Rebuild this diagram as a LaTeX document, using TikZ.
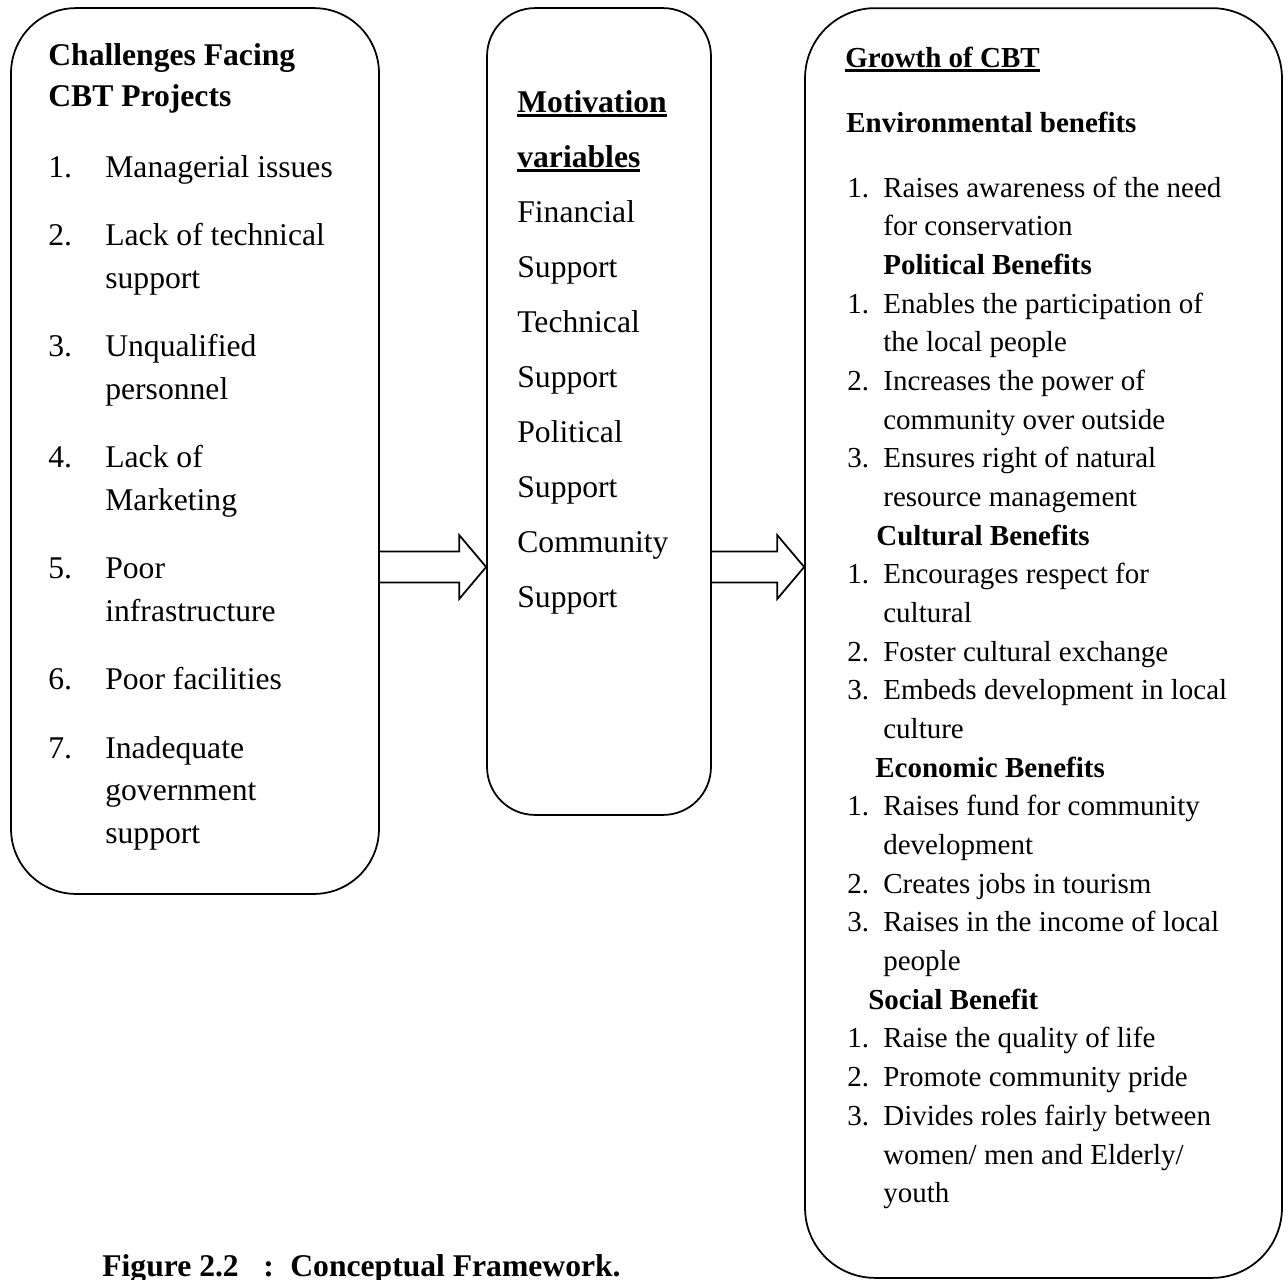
\documentclass[tikz,border=0pt]{standalone}
\usepackage{fontspec}
\setmainfont{Liberation Serif}
\usetikzlibrary{calc}
\newcommand{\thickul}[1]{\setbox0\hbox{#1}\rlap{\rule[-3pt]{\wd0}{1.6pt}}\box0}

\begin{document}
\begin{tikzpicture}[x=0.02cm,y=-0.02cm]
  \tikzstyle{myBox}=[draw,line width=1pt,inner sep=0pt];
  \tikzstyle{myBig}=[anchor=base west,inner sep=0pt,font=\fontsize{18}{21}\selectfont];
  \tikzstyle{myBigHead}=[anchor=base west,inner sep=0pt,font=\fontsize{18}{21}\selectfont\bfseries];
  \tikzstyle{mySmall}=[anchor=base west,inner sep=0pt,font=\fontsize{16.5}{19}\selectfont];
  \tikzstyle{mySmallHead}=[anchor=base west,inner sep=0pt,font=\fontsize{16.5}{19}\selectfont\bfseries];
  \useasboundingbox (0,0) rectangle (1288,1279);

  \node[myBox,rounded corners=1.3cm,minimum width=7.36cm,minimum height=17.72cm] (chal) at (195,451) {};
  \node[myBox,rounded corners=0.96cm,minimum width=4.48cm,minimum height=16.14cm] (motiv) at (599,411.5) {};
  \node[myBox,rounded corners=1.4cm,minimum width=9.54cm,minimum height=25.4cm] (growth) at (1043.5,643) {};

  \coordinate (row) at (0,567);
  \foreach \a/\b in {chal/motiv,motiv/growth} {
    \coordinate (s) at (\a.east |- row);
    \coordinate (t) at (\b.west |- row);
    \draw[line width=1pt] ($(s)+(0,-15.5)$) -- ($(t)+(-27,-15.5)$) -- ($(t)+(-27,-32)$) -- (t)
      -- ($(t)+(-27,32)$) -- ($(t)+(-27,15.5)$) -- ($(s)+(0,15.5)$);
  }

  \node[myBigHead] (chalA) at (48,65) {Challenges Facing};
  \node[myBigHead] (chalB) at (48,106) {CBT Projects};
  \foreach \k/\y in {1/177,2/245.5,3/356.5,4/467.5,5/578.5,6/689.5,7/758}
    \node[myBig] (cnum\k) at (48,\y) {\k.};
  \foreach \y/\t [count=\i] in {177/Managerial issues,245.5/Lack of technical,288/support,
      356.5/Unqualified,399/personnel,467.5/Lack of,510/Marketing,578.5/Poor,621/infrastructure,
      689.5/Poor facilities,758/Inadequate,800.5/government,843/support}
    \node[myBig] (cline\i) at (105,\y) {\t};

  \node[myBigHead] (motA) at (517,112) {\thickul{Motivation}};
  \node[myBigHead] (motB) at (517,167) {\thickul{variables}};
  \foreach \y/\t [count=\i] in {222/Financial,277/Support,332/Technical,387/Support,
      442/Political,497/Support,552/Community,607/Support}
    \node[myBig] (mline\i) at (517,\y) {\t};

  \node[mySmallHead] (groA) at (845,67) {\thickul{Growth of CBT}};
  \node[mySmallHead] (groB) at (846,132) {Environmental benefits};
  \foreach \L/\x/\t in {2/883/Political Benefits,9/876/Cultural Benefits,
      15/875/Economic Benefits,21/868/Social Benefit}
    \node[mySmallHead] (ghead\L) at (\x,{197+38.68*\L}) {\t};
  \foreach \L/\k in {0/1,3/1,5/2,7/3,10/1,12/2,13/3,16/1,18/2,19/3,22/1,23/2,24/3}
    \node[mySmall] (gnum\L) at (847,{197+38.68*\L}) {\k.};
  \foreach \L/\t in {0/Raises awareness of the need,1/for conservation,
      3/Enables the participation of,4/the local people,5/Increases the power of,
      6/community over outside,7/Ensures right of natural,8/resource management,
      10/Encourages respect for,11/cultural,12/Foster cultural exchange,
      13/Embeds development in local,14/culture,16/Raises fund for community,
      17/development,18/Creates jobs in tourism,19/Raises in the income of local,
      20/people,22/Raise the quality of life,23/Promote community pride,
      24/Divides roles fairly between,25/{women/ men and Elderly/},26/youth}
    \node[mySmall] (gline\L) at (883,{197+38.68*\L}) {\t};

  \node[myBigHead] (capA) at (102,1276) {Figure 2.2};
  \node[myBigHead] (capB) at (263,1276) {:};
  \node[myBigHead] (capC) at (290,1276) {Conceptual Framework.};
\end{tikzpicture}
\end{document}
